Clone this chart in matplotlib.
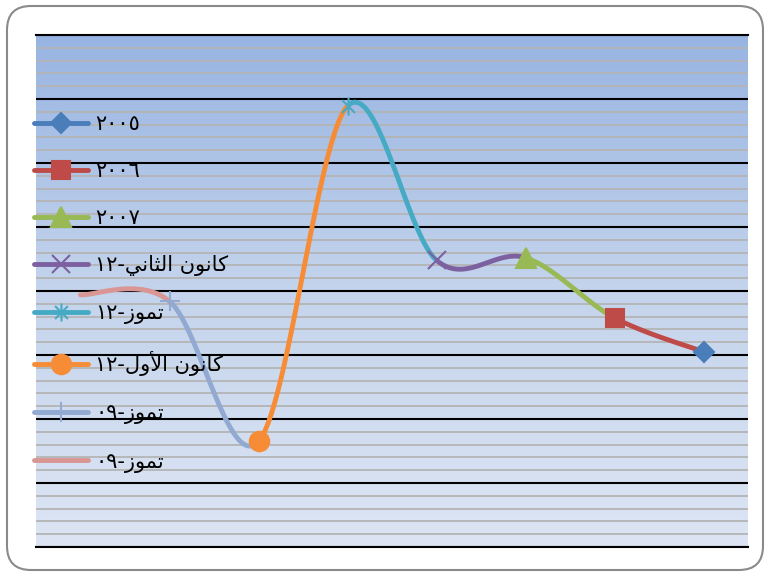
import re
import numpy as np
import matplotlib
matplotlib.use('Agg')
import matplotlib.pyplot as plt
from matplotlib.lines import Line2D
from matplotlib.path import Path
from matplotlib.patches import FancyBboxPatch
from matplotlib.colors import LinearSegmentedColormap

# Data (x axis runs right to left, first category on the right)
labels = ['٢٠٠٥', '٢٠٠٦', '٢٠٠٧', 'كانون الثاني-١٢', 'تموز-١٢',
          'كانون الأول-١٢', 'تموز-٠٩', 'تموز-٠٩']
values = [3.05, 3.58, 4.52, 4.48, 6.89, 1.65, 3.84, 3.94]

colors = ['#4A7EBB', '#BE4B48', '#98B954', '#7D60A0', '#46AAC5',
          '#F68C36', '#92AAD1', '#D99694']

# star marker: an x with a vertical bar
star = Path([(-1, -1), (1, 1), (-1, 1), (1, -1), (0, -1.4), (0, 1.4)],
            [Path.MOVETO, Path.LINETO, Path.MOVETO, Path.LINETO, Path.MOVETO, Path.LINETO])
markers = ['D', 's', '^', 'x', star, 'o', '+', 'None']
msizes = [10, 13, 14, 13, 13, 14, 14, 0]

# minimal Arabic shaping (matplotlib has no shaping / bidi)
FORMS = {
    'ا': ('\uFE8D', '\uFE8E', None, None),
    'أ': ('\uFE83', '\uFE84', None, None),
    'و': ('\uFEED', '\uFEEE', None, None),
    'ز': ('\uFEAF', '\uFEB0', None, None),
    'ك': ('\uFED9', '\uFEDA', '\uFEDB', '\uFEDC'),
    'ن': ('\uFEE5', '\uFEE6', '\uFEE7', '\uFEE8'),
    'ل': ('\uFEDD', '\uFEDE', '\uFEDF', '\uFEE0'),
    'ث': ('\uFE99', '\uFE9A', '\uFE9B', '\uFE9C'),
    'ي': ('\uFEF1', '\uFEF2', '\uFEF3', '\uFEF4'),
    'ت': ('\uFE95', '\uFE96', '\uFE97', '\uFE98'),
    'م': ('\uFEE1', '\uFEE2', '\uFEE3', '\uFEE4'),
}
LAM_ALEF = {'ا': ('\uFEFB', '\uFEFC'), 'أ': ('\uFEF7', '\uFEF8')}


def shape(text):
    out = []
    i = 0
    n = len(text)
    joins = lambda c: c in FORMS and FORMS[c][2] is not None
    while i < n:
        c = text[i]
        if c not in FORMS:
            out.append(c)
            i += 1
            continue
        prev = i > 0 and joins(text[i - 1])
        if c == 'ل' and i + 1 < n and text[i + 1] in LAM_ALEF:
            iso, fin = LAM_ALEF[text[i + 1]]
            out.append(fin if prev else iso)
            i += 2
            continue
        nxt = i + 1 < n and text[i + 1] in FORMS
        iso, fin, ini, med = FORMS[c]
        if ini is None:
            out.append(fin if prev else iso)
        elif prev and nxt:
            out.append(med)
        elif prev:
            out.append(fin)
        elif nxt:
            out.append(ini)
        else:
            out.append(iso)
        i += 1
    s = ''.join(out)[::-1]
    return re.sub('[٠-٩]+', lambda m: m.group()[::-1], s)


W, H = 766, 574
fig = plt.figure(figsize=(W / 100, H / 100), dpi=100)

# rounded outer border
fig.patches.append(FancyBboxPatch((0.07, 0.04), 7.56, 5.64,
                                  boxstyle='round,pad=0,rounding_size=0.24',
                                  transform=fig.dpi_scale_trans, zorder=-1,
                                  facecolor='white', edgecolor='#8A8A8A', lw=1.5))

ax = fig.add_axes([36 / W, (H - 547) / H, 712 / W, 512 / H])
ax.patch.set_alpha(0)

# gradient fill of the plot area
cmap = LinearSegmentedColormap.from_list('bg', ['#DDE5F4', '#C4D4EC', '#98B4E2'])
grad = np.linspace(0, 1, 256).reshape(-1, 1)
ax.imshow(grad, extent=(0, 1, 0, 1), transform=ax.transAxes, origin='lower',
          cmap=cmap, aspect='auto', zorder=0)

x = np.arange(len(values))
y = np.array(values)
pts = np.column_stack([x, y])

# smoothed line, each segment in the colour of the point it ends at
t = np.linspace(0, 1, 60)[:, None]
for k in range(len(pts) - 1):
    p0 = pts[k - 1] if k > 0 else pts[k]
    p1, p2 = pts[k], pts[k + 1]
    p3 = pts[k + 2] if k + 2 < len(pts) else pts[k + 1]
    c1 = p1 + (p2 - p0) / 6
    c2 = p2 - (p3 - p1) / 6
    seg = ((1 - t) ** 3) * p1 + 3 * ((1 - t) ** 2) * t * c1 + 3 * (1 - t) * t ** 2 * c2 + t ** 3 * p2
    ax.plot(seg[:, 0], seg[:, 1], color=colors[k + 1], lw=3.5,
            solid_capstyle='round', zorder=3)

for i in range(len(values)):
    if markers[i] == 'None':
        continue
    ax.plot(x[i], y[i], marker=markers[i], ms=msizes[i], color=colors[i],
            mec=colors[i], mew=1.5, ls='None', zorder=4)

ax.set_xlim(7.5, -0.5)
ax.set_ylim(0, 8)
ax.set_yticks(np.arange(0, 9, 1))
ax.set_yticks(np.arange(0, 8.01, 0.2), minor=True)
ax.yaxis.grid(True, which='major', color='black', lw=1.5)
ax.yaxis.grid(True, which='minor', color='#B4B4B4', lw=1.3)
ax.set_axisbelow(True)
ax.tick_params(which='both', length=0, labelleft=False, labelbottom=False)
for side in ['left', 'right']:
    ax.spines[side].set_visible(False)
for side in ['top', 'bottom']:
    ax.spines[side].set_linewidth(1.5)

handles = [Line2D([], [], color=colors[i], lw=3.5, marker=markers[i],
                  ms=msizes[i], mec=colors[i], mew=1.5, solid_capstyle='round')
           for i in range(len(values))]
fig.legend(handles, [shape(s) for s in labels], loc='upper left',
           bbox_to_anchor=(34 / W, (H - 114) / H), frameon=False,
           borderpad=0, borderaxespad=0, handlelength=2.6, handletextpad=0.34,
           labelspacing=1.30, prop={'family': 'DejaVu Sans', 'size': 15})

fig.savefig('out.png', dpi=100)
